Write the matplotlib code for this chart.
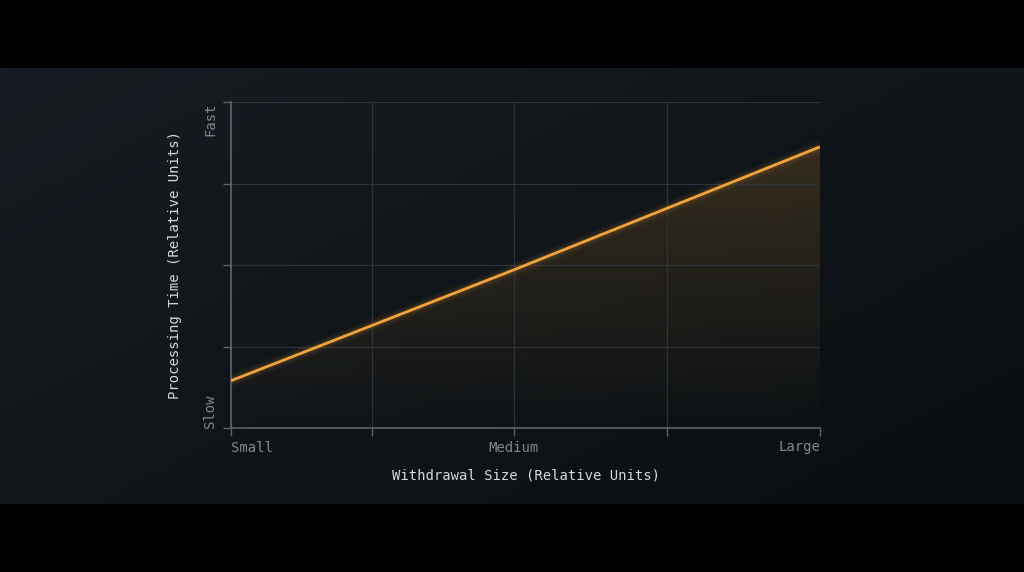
import numpy as np
import matplotlib.pyplot as plt
from matplotlib.colors import LinearSegmentedColormap

# dados (unidades relativas)
tamanho = [0, 48, 100]
tempo = [0.58, 1.94, 3.45]
x_ticks = [0, 24, 48, 74, 100]
x_labels = ['Small', '', 'Medium', '', 'Large']
y_ticks = [0, 1, 2, 3, 4]
y_labels = ['Slow', '', '', '', 'Fast']

laranja = '#f2a33a'
cinza_txt = '#80868c'
cinza_grid = '#2b3238'
cinza_eixo = '#5c636a'

plt.rcParams['font.family'] = ['DejaVu Sans Mono']

fig = plt.figure(figsize=(10.24, 5.72), dpi=100, facecolor='black')

# painel de fundo com gradiente
bg = fig.add_axes([0, (572 - 504) / 572, 1, 436 / 572])
bg.set_axis_off()
gx, gy = np.meshgrid(np.linspace(0, 1, 200), np.linspace(0, 1, 100))
grad = 0.55 * (1 - gx) + 0.45 * gy
cmap_bg = LinearSegmentedColormap.from_list('bg', ['#0a0e11', '#161c21'])
bg.imshow(grad, cmap=cmap_bg, aspect='auto', origin='lower', extent=[0, 1, 0, 1])
bg.set_xlim(0, 1)
bg.set_ylim(0, 1)

ax = fig.add_axes([231 / 1024, (572 - 428) / 572, 589 / 1024, 326 / 572])
ax.set_facecolor('none')
ax.set_xlim(0, 100)
ax.set_ylim(0, 4)

# preenchimento em gradiente sob a linha
poly = ax.fill_between(tamanho, tempo, 0, color='none')
vert = np.linspace(0, 1, 256).reshape(-1, 1)
cmap_fill = LinearSegmentedColormap.from_list(
    'fill', [(0.95, 0.64, 0.23, 0.0), (0.95, 0.64, 0.23, 0.17)])
img = ax.imshow(vert, cmap=cmap_fill, aspect='auto', origin='lower',
                extent=[0, 100, 0, max(tempo)], zorder=1)
img.set_clip_path(poly.get_paths()[0], transform=ax.transData)

# brilho da linha
for lw, a in [(10, 0.03), (7, 0.05), (4.5, 0.08)]:
    ax.plot(tamanho, tempo, color=laranja, lw=lw, alpha=a, zorder=3,
            solid_capstyle='butt')
ax.plot(tamanho, tempo, color=laranja, lw=2, zorder=4, solid_capstyle='butt')

ax.set_xticks(x_ticks)
ax.set_xticklabels(x_labels)
ax.set_yticks(y_ticks)
ax.set_yticklabels(y_labels, rotation=90)
for lab in ax.get_xticklabels():
    if lab.get_text() == 'Small':
        lab.set_ha('left')
    elif lab.get_text() == 'Large':
        lab.set_ha('right')
for lab in ax.get_yticklabels():
    if lab.get_text() == 'Fast':
        lab.set_va('top')
    elif lab.get_text() == 'Slow':
        lab.set_va('bottom')

ax.tick_params(axis='both', colors=cinza_eixo, labelcolor=cinza_txt,
               labelsize=10, length=6, width=1)
ax.tick_params(axis='x', pad=3)
ax.tick_params(axis='y', pad=4)

ax.grid(True, color=cinza_grid, lw=0.9, zorder=0)
for s in ['top', 'right']:
    ax.spines[s].set_visible(False)
for s in ['left', 'bottom']:
    ax.spines[s].set_color(cinza_eixo)
    ax.spines[s].set_linewidth(1.2)

ax.set_xlabel('Withdrawal Size (Relative Units)', color='#d4d8dc',
              fontsize=10, labelpad=10)
ax.set_ylabel('Processing Time (Relative Units)', color='#d4d8dc',
              fontsize=10, labelpad=15)

fig.savefig('out.png', dpi=100, facecolor='black')
